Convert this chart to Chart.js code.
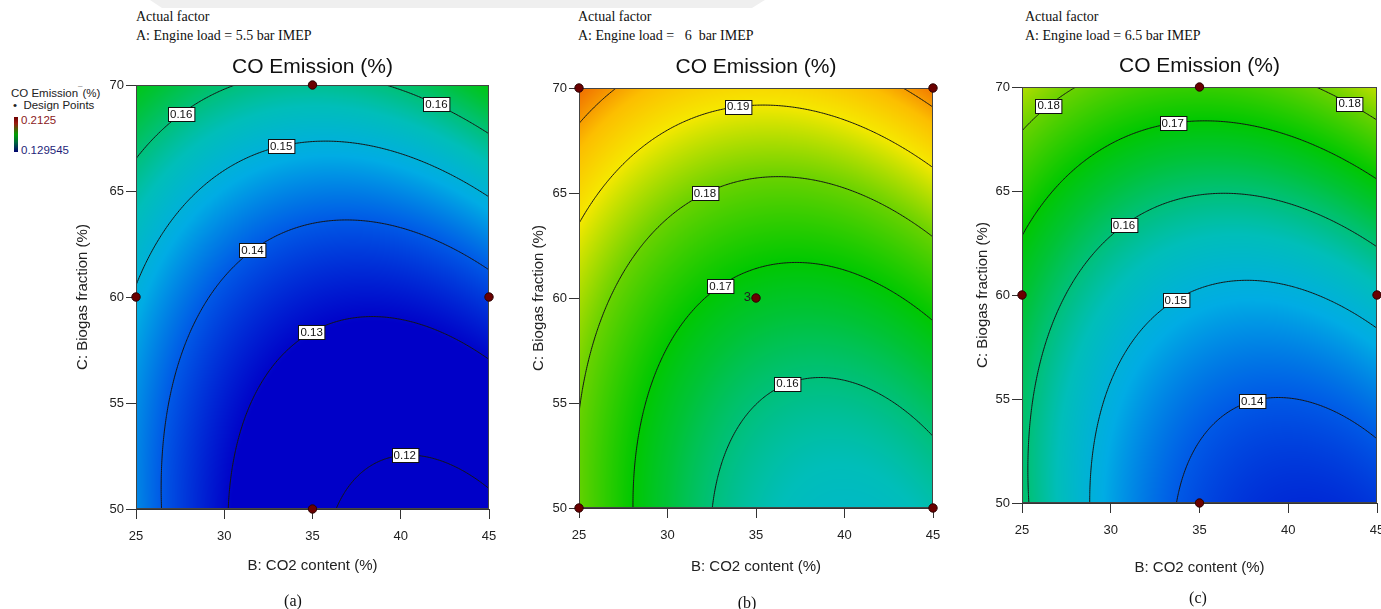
<!DOCTYPE html>
<html>
<head>
<meta charset="utf-8">
<title>CO Emission response surfaces</title>
<script src="https://cdn.jsdelivr.net/npm/chart.js@4.4.1/dist/chart.umd.min.js"></script>
<style>
  html, body { margin: 0; padding: 0; background: #fff; }
  body { width: 1381px; height: 609px; overflow: hidden; position: relative;
         font-family: "Liberation Sans", Arial, sans-serif; color: #111; }
  canvas { position: absolute; top: 0; }
  .band { position: absolute; left: 0; top: 0; width: 1381px; height: 10px; background: #efefef;
          clip-path: polygon(150px 0, 765px 0, 752px 8px, 162px 8px); }
  .factor { position: absolute; font-family: "Liberation Serif", "Times New Roman", serif;
            font-size: 14px; line-height: 19px; white-space: pre; color: #111; }
  .tag { position: absolute; font-family: "Liberation Serif", "Times New Roman", serif;
         font-size: 16px; transform: translate(-50%, -50%); color: #111; }
  .legend { position: absolute; font-size: 11.5px; line-height: 13px; height: 13px; white-space: pre; color: #222; }
  .mark { position: relative; top: -5px; font-size: 8px; }
  .bar { position: absolute; left: 14px; top: 117px; width: 4px; height: 35px;
         background: linear-gradient(to bottom, #6e0000 0%, #9a1a10 18%, #00a000 50%, #006a3a 72%, #000070 100%); }
</style>
</head>
<body>
<div class="band"></div>

<div class="factor" style="left:136px; top:7px;">Actual factor
A: Engine load = 5.5 bar IMEP</div>
<div class="factor" style="left:578px; top:7px;">Actual factor
A: Engine load =   6  bar IMEP</div>
<div class="factor" style="left:1025px; top:7px;">Actual factor
A: Engine load = 6.5 bar IMEP</div>

<div class="legend" style="left:11px; top:87px;">CO Emission<span class="mark">¯</span>(%)</div>
<div class="legend" style="left:13px; top:99px;">•  Design Points</div>
<div class="bar"></div>
<div class="legend" style="left:21px; top:114px; color:#8b1a1a;">0.2125</div>
<div class="legend" style="left:21px; top:144px; color:#1f1f7a;">0.129545</div>

<canvas id="panelA" width="530" height="609" style="left:0px"></canvas>
<canvas id="panelB" width="470" height="609" style="left:510px"></canvas>
<canvas id="panelC" width="470" height="609" style="left:950px"></canvas>

<div class="tag" style="left:293px; top:601px;">(a)</div>
<div class="tag" style="left:747px; top:603px;">(b)</div>
<div class="tag" style="left:1198px; top:598px;">(c)</div>

<script>
// ---- factor levels (axes) ----
const co2Content = [25, 30, 35, 40, 45];        // B: CO2 content (%)
const biogasFraction = [50, 55, 60, 65, 70];    // C: Biogas fraction (%)

// ---- CO emission (%) on the B x C grid; rows follow biogasFraction, columns co2Content ----
const coLoad55 = [
  [0.1446, 0.1305, 0.1215, 0.1177, 0.1189],
  [0.1452, 0.1328, 0.1254, 0.1232, 0.1260],
  [0.1493, 0.1385, 0.1328, 0.1322, 0.1367],
  [0.1570, 0.1478, 0.1437, 0.1447, 0.1509],
  [0.1681, 0.1606, 0.1581, 0.1608, 0.1686]
];
const coLoad60 = [
  [0.1794, 0.1651, 0.1564, 0.1534, 0.1560],
  [0.1802, 0.1673, 0.1601, 0.1584, 0.1624],
  [0.1847, 0.1732, 0.1673, 0.1671, 0.1725],
  [0.1927, 0.1826, 0.1782, 0.1793, 0.1862],
  [0.2043, 0.1957, 0.1926, 0.1952, 0.2034]
];
const coLoad65 = [
  [0.1613, 0.1471, 0.1382, 0.1345, 0.1361],
  [0.1618, 0.1493, 0.1420, 0.1399, 0.1431],
  [0.1660, 0.1551, 0.1494, 0.1490, 0.1538],
  [0.1738, 0.1645, 0.1605, 0.1617, 0.1682],
  [0.1853, 0.1776, 0.1752, 0.1780, 0.1861]
];

// ---- contour levels ----
const levelsLoad55 = [0.12, 0.13, 0.14, 0.15, 0.16];
const levelsLoad60 = [0.16, 0.17, 0.18, 0.19, 0.20];
const levelsLoad65 = [0.14, 0.15, 0.16, 0.17, 0.18];

// ---- design points (B, C) ----
const designLoad55 = [{x: 35, y: 70}, {x: 25, y: 60}, {x: 45, y: 60}, {x: 35, y: 50}];
const designLoad60 = [{x: 25, y: 70}, {x: 45, y: 70}, {x: 35, y: 60}, {x: 25, y: 50}, {x: 45, y: 50}];
const designLoad65 = [{x: 35, y: 70}, {x: 25, y: 60}, {x: 45, y: 60}, {x: 35, y: 50}];
const centreReplicates = 3;

// ---- colour scale range ----
const legendMax = 0.2125;
const legendMin = 0.129545;

// where each contour value tag sits: [level, B, approximate C]
const tagsLoad55 = [[0.16, 27.56, 68.87], [0.16, 42.02, 69.35], [0.15, 33.22, 67.42],
                    [0.14, 31.60, 62.57], [0.13, 34.95, 58.89], [0.12, 40.23, 52.99]];
const tagsLoad60 = [[0.19, 33.99, 69.43], [0.18, 32.11, 65.38], [0.17, 32.99, 61.00], [0.16, 36.78, 56.62]];
const tagsLoad65 = [[0.18, 26.50, 69.39], [0.18, 43.46, 69.58], [0.17, 33.49, 68.64],
                    [0.16, 30.75, 63.68], [0.15, 33.66, 60.11], [0.14, 37.97, 55.30]];

const FONT = '"Liberation Sans", Arial, sans-serif';
Chart.defaults.font.family = FONT;
Chart.defaults.color = '#222';

// rainbow scale: blue - cyan - green - yellow - red (positions as fraction of the legend range)
const colourStops = [
  [0.000, [0, 0, 200]], [0.127, [0, 90, 230]], [0.223, [0, 172, 228]], [0.307, [0, 190, 185]],
  [0.368, [0, 192, 120]], [0.428, [0, 195, 55]], [0.488, [0, 200, 0]], [0.608, [105, 210, 0]],
  [0.729, [245, 232, 0]], [0.813, [252, 190, 0]], [0.898, [240, 110, 0]], [1.000, [200, 0, 0]]
];
function colourFor(v) {
  let t = (v - legendMin) / (legendMax - legendMin);
  t = Math.max(0, Math.min(1, t));
  for (let k = 1; k < colourStops.length; k++) {
    const [t1, c1] = colourStops[k];
    if (t <= t1) {
      const [t0, c0] = colourStops[k - 1];
      const u = (t - t0) / (t1 - t0);
      return [c0[0] + (c1[0] - c0[0]) * u, c0[1] + (c1[1] - c0[1]) * u, c0[2] + (c1[2] - c0[2]) * u];
    }
  }
  return colourStops[colourStops.length - 1][1];
}

// least-squares quadratic response surface through the grid values
function fitSurface(grid) {
  const bMid = (co2Content[0] + co2Content[co2Content.length - 1]) / 2;
  const bHalf = (co2Content[co2Content.length - 1] - co2Content[0]) / 2;
  const cMid = (biogasFraction[0] + biogasFraction[biogasFraction.length - 1]) / 2;
  const cHalf = (biogasFraction[biogasFraction.length - 1] - biogasFraction[0]) / 2;
  const basis = (u, w) => [1, u, w, u * w, u * u, w * w];
  const M = Array.from({length: 6}, () => new Array(7).fill(0));
  grid.forEach((row, j) => row.forEach((val, i) => {
    const phi = basis((co2Content[i] - bMid) / bHalf, (biogasFraction[j] - cMid) / cHalf);
    for (let r = 0; r < 6; r++) {
      for (let s = 0; s < 6; s++) M[r][s] += phi[r] * phi[s];
      M[r][6] += phi[r] * val;
    }
  }));
  for (let col = 0; col < 6; col++) {
    let piv = col;
    for (let r = col + 1; r < 6; r++) if (Math.abs(M[r][col]) > Math.abs(M[piv][col])) piv = r;
    [M[col], M[piv]] = [M[piv], M[col]];
    for (let r = 0; r < 6; r++) {
      if (r === col) continue;
      const f = M[r][col] / M[col][col];
      for (let s = col; s < 7; s++) M[r][s] -= f * M[col][s];
    }
  }
  const coef = M.map((row, r) => row[6] / row[r]);
  return (b, c) => {
    const phi = basis((b - bMid) / bHalf, (c - cMid) / cHalf);
    let s = 0;
    for (let k = 0; k < 6; k++) s += coef[k] * phi[k];
    return s;
  };
}

// marching squares over the B x C domain
function contourSegments(f, level, n) {
  const b0 = co2Content[0], b1 = co2Content[co2Content.length - 1];
  const c0 = biogasFraction[0], c1 = biogasFraction[biogasFraction.length - 1];
  const bs = [], cs = [];
  for (let i = 0; i <= n; i++) { bs.push(b0 + (b1 - b0) * i / n); cs.push(c0 + (c1 - c0) * i / n); }
  const g = cs.map(c => bs.map(b => f(b, c) - level));
  const segs = [];
  for (let j = 0; j < n; j++) {
    for (let i = 0; i < n; i++) {
      const a = g[j][i], b = g[j][i + 1], c = g[j + 1][i + 1], d = g[j + 1][i];
      const p = [];
      if ((a < 0) !== (b < 0)) p.push([bs[i] + (bs[i + 1] - bs[i]) * a / (a - b), cs[j]]);
      if ((b < 0) !== (c < 0)) p.push([bs[i + 1], cs[j] + (cs[j + 1] - cs[j]) * b / (b - c)]);
      if ((c < 0) !== (d < 0)) p.push([bs[i + 1] + (bs[i] - bs[i + 1]) * c / (c - d), cs[j + 1]]);
      if ((d < 0) !== (a < 0)) p.push([bs[i], cs[j + 1] + (cs[j] - cs[j + 1]) * d / (d - a)]);
      if (p.length === 2) segs.push(p);
      else if (p.length === 4) { segs.push([p[0], p[1]]); segs.push([p[2], p[3]]); }
    }
  }
  return segs;
}

// move a tag vertically onto its contour line
function snapToLevel(f, b, cGuess, level) {
  let best = cGuess, bestD = Infinity;
  const step = 0.01;
  for (let k = -300; k < 300; k++) {
    const ca = cGuess + k * step, cb = ca + step;
    const va = f(b, ca) - level, vb = f(b, cb) - level;
    if ((va < 0) !== (vb < 0)) {
      const c = ca + step * va / (va - vb);
      if (Math.abs(c - cGuess) < bestD) { bestD = Math.abs(c - cGuess); best = c; }
    }
  }
  return best;
}

const panels = {
  panelA: { values: coLoad55, levels: levelsLoad55, points: designLoad55, tags: tagsLoad55,
            pad: {left: 74, right: 41, top: 54.4, bottom: 34}, yAxisWidth: 62, xAxisHeight: 66, titleGap: 5.4 },
  panelB: { values: coLoad60, levels: levelsLoad60, points: designLoad60, tags: tagsLoad60, replicates: true,
            pad: {left: 20, right: 47, top: 54.4, bottom: 33}, yAxisWidth: 49, xAxisHeight: 68, titleGap: 8.4 },
  panelC: { values: coLoad65, levels: levelsLoad65, points: designLoad65, tags: tagsLoad65,
            pad: {left: 24, right: 43, top: 53.4, bottom: 32.5}, yAxisWidth: 48, xAxisHeight: 73.5, titleGap: 8.4 }
};

const surfacePlugin = {
  id: 'responseSurface',
  beforeDatasetsDraw(chart) {
    const p = panels[chart.canvas.id];
    const f = p.surface;
    const {ctx, chartArea: area} = chart;
    const xs = chart.scales.x, ys = chart.scales.y;

    // shaded surface, one pixel at a time through the scales
    const w = Math.round(area.right - area.left), h = Math.round(area.bottom - area.top);
    const off = document.createElement('canvas');
    off.width = w; off.height = h;
    const octx = off.getContext('2d');
    const img = octx.createImageData(w, h);
    for (let j = 0; j < h; j++) {
      const c = ys.getValueForPixel(area.top + j + 0.5);
      for (let i = 0; i < w; i++) {
        const b = xs.getValueForPixel(area.left + i + 0.5);
        const col = colourFor(f(b, c));
        const k = (j * w + i) * 4;
        img.data[k] = col[0]; img.data[k + 1] = col[1]; img.data[k + 2] = col[2]; img.data[k + 3] = 255;
      }
    }
    octx.putImageData(img, 0, 0);
    ctx.save();
    ctx.drawImage(off, area.left, area.top);

    // contour lines
    ctx.beginPath();
    ctx.rect(area.left, area.top, area.right - area.left, area.bottom - area.top);
    ctx.clip();
    ctx.strokeStyle = '#151515';
    ctx.lineWidth = 1;
    ctx.beginPath();
    p.levels.forEach(level => {
      contourSegments(f, level, 220).forEach(([s, e]) => {
        ctx.moveTo(xs.getPixelForValue(s[0]), ys.getPixelForValue(s[1]));
        ctx.lineTo(xs.getPixelForValue(e[0]), ys.getPixelForValue(e[1]));
      });
    });
    ctx.stroke();
    ctx.restore();

    // frame
    ctx.save();
    ctx.strokeStyle = '#444';
    ctx.lineWidth = 1;
    ctx.strokeRect(Math.round(area.left) + 0.5, Math.round(area.top) + 0.5,
                   Math.round(area.right - area.left) - 1, Math.round(area.bottom - area.top) - 1);

    // contour value tags
    ctx.font = '11.5px ' + FONT;
    ctx.textAlign = 'center';
    ctx.textBaseline = 'middle';
    p.tags.forEach(([level, b, cGuess]) => {
      const c = snapToLevel(f, b, cGuess, level);
      const px = xs.getPixelForValue(b), py = ys.getPixelForValue(c);
      const text = level.toFixed(2);
      const tw = ctx.measureText(text).width + 4, th = 14;
      const bx = Math.round(px - tw / 2) + 0.5, by = Math.round(py - th / 2) + 0.5;
      ctx.fillStyle = '#fff';
      ctx.fillRect(bx, by, tw, th);
      ctx.strokeStyle = '#111';
      ctx.strokeRect(bx, by, tw, th);
      ctx.fillStyle = '#111';
      ctx.fillText(text, px, py + 0.5);
    });
    ctx.restore();
  },
  afterDatasetsDraw(chart) {
    const p = panels[chart.canvas.id];
    if (!p.replicates) return;
    const {ctx} = chart;
    const xs = chart.scales.x, ys = chart.scales.y;
    const centre = p.points.find(pt => pt.x === co2Content[2] && pt.y === biogasFraction[2]);
    ctx.save();
    ctx.font = '13px ' + FONT;
    ctx.fillStyle = '#222';
    ctx.textAlign = 'right';
    ctx.textBaseline = 'middle';
    ctx.fillText(String(centreReplicates), xs.getPixelForValue(centre.x) - 5, ys.getPixelForValue(centre.y) - 1);
    ctx.restore();
  }
};

Object.keys(panels).forEach(id => {
  const p = panels[id];
  p.surface = fitSurface(p.values);
  new Chart(document.getElementById(id), {
    type: 'scatter',
    data: {
      datasets: [{
        label: 'Design Points',
        data: p.points,
        pointRadius: 4.2,
        pointBackgroundColor: '#6a0000',
        pointBorderColor: '#2a0000',
        pointBorderWidth: 1,
        clip: false
      }]
    },
    options: {
      responsive: false,
      animation: false,
      devicePixelRatio: 1,
      events: [],
      layout: { padding: p.pad },
      plugins: {
        legend: { display: false },
        tooltip: { enabled: false },
        title: {
          display: true, text: 'CO Emission (%)', fullSize: false, align: 'center',
          font: { size: 21, weight: 'normal', family: FONT }, color: '#111',
          padding: { top: 0, bottom: p.titleGap }
        }
      },
      scales: {
        x: {
          type: 'linear', position: 'bottom',
          min: co2Content[0], max: co2Content[co2Content.length - 1],
          afterBuildTicks: s => { s.ticks = co2Content.map(v => ({ value: v })); },
          afterFit: s => { s.height = p.xAxisHeight; },
          ticks: { font: { size: 13 }, color: '#222', padding: 10, maxRotation: 0 },
          grid: { drawOnChartArea: false, drawTicks: true, tickLength: 10, color: '#333' },
          border: { display: true, color: '#333' },
          title: { display: true, text: 'B: CO2 content (%)', font: { size: 15 }, color: '#222', padding: 0 }
        },
        y: {
          type: 'linear', position: 'left',
          min: biogasFraction[0], max: biogasFraction[biogasFraction.length - 1],
          afterBuildTicks: s => { s.ticks = biogasFraction.map(v => ({ value: v })); },
          afterFit: s => { s.width = p.yAxisWidth; },
          ticks: { font: { size: 13 }, color: '#222', padding: 2 },
          grid: { drawOnChartArea: false, drawTicks: true, tickLength: 10, color: '#333' },
          border: { display: true, color: '#333' },
          title: { display: true, text: 'C: Biogas fraction (%)', font: { size: 15 }, color: '#222', padding: 0 }
        }
      }
    },
    plugins: [surfacePlugin]
  });
});
</script>
</body>
</html>
